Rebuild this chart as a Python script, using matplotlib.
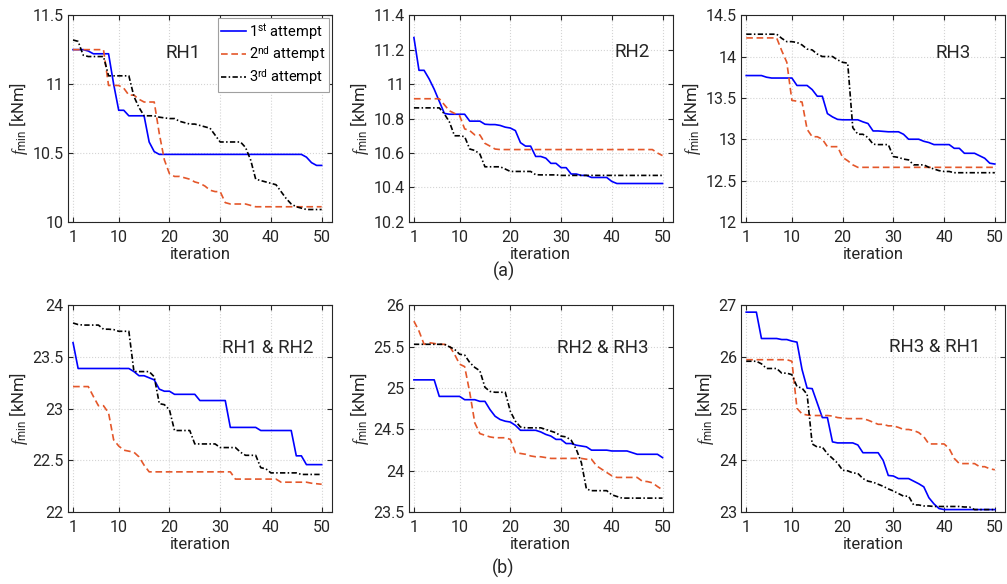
import numpy as np
import matplotlib
matplotlib.use("Agg")
import matplotlib.pyplot as plt
from matplotlib.ticker import FormatStrFormatter

plt.rcParams['font.family'] = ['Roboto', 'DejaVu Sans']
plt.rcParams['mathtext.fontset'] = 'custom'
plt.rcParams['mathtext.rm'] = 'Roboto'
plt.rcParams['mathtext.it'] = 'Liberation Serif:italic'

iteration = np.arange(1, 51)
labels = ['1$^{\\mathrm{st}}$ attempt', '2$^{\\mathrm{nd}}$ attempt', '3$^{\\mathrm{rd}}$ attempt']

# ---- (a) single rotor ----
rh1_1 = [11.25, 11.25, 11.25, 11.24, 11.22, 11.22, 11.22, 11.22, 11.00, 10.81,
         10.81, 10.77, 10.77, 10.77, 10.77, 10.58, 10.51, 10.49, 10.49, 10.49,
         10.49, 10.49, 10.49, 10.49, 10.49, 10.49, 10.49, 10.49, 10.49, 10.49,
         10.49, 10.49, 10.49, 10.49, 10.49, 10.49, 10.49, 10.49, 10.49, 10.49,
         10.49, 10.49, 10.49, 10.49, 10.49, 10.49, 10.47, 10.43, 10.41, 10.41]
rh1_2 = [11.25, 11.25, 11.25, 11.25, 11.25, 11.25, 11.25, 10.99, 10.99, 10.99,
         10.97, 10.92, 10.92, 10.89, 10.87, 10.87, 10.87, 10.64, 10.45, 10.35,
         10.33, 10.33, 10.32, 10.31, 10.29, 10.28, 10.26, 10.23, 10.22, 10.22,
         10.14, 10.13, 10.13, 10.13, 10.13, 10.12, 10.11, 10.11, 10.11, 10.11,
         10.11, 10.11, 10.11, 10.11, 10.11, 10.11, 10.11, 10.11, 10.11, 10.11]
rh1_3 = [11.32, 11.31, 11.21, 11.20, 11.20, 11.20, 11.20, 11.06, 11.06, 11.06,
         11.06, 11.06, 10.91, 10.83, 10.77, 10.77, 10.77, 10.76, 10.755, 10.75,
         10.75, 10.73, 10.72, 10.71, 10.71, 10.70, 10.69, 10.68, 10.63, 10.58,
         10.58, 10.58, 10.58, 10.58, 10.54, 10.45, 10.31, 10.30, 10.29, 10.28,
         10.27, 10.22, 10.17, 10.13, 10.11, 10.10, 10.09, 10.09, 10.09, 10.09]

rh2_1 = [11.27, 11.08, 11.08, 11.03, 10.97, 10.90, 10.83, 10.825, 10.825, 10.825,
         10.825, 10.785, 10.785, 10.785, 10.767, 10.765, 10.765, 10.76, 10.75, 10.745,
         10.73, 10.66, 10.64, 10.64, 10.58, 10.58, 10.57, 10.54, 10.54, 10.515,
         10.515, 10.478, 10.478, 10.47, 10.47, 10.458, 10.458, 10.458, 10.458, 10.435,
         10.423, 10.423, 10.423, 10.423, 10.423, 10.423, 10.423, 10.423, 10.423, 10.423]
rh2_2 = [10.915, 10.915, 10.915, 10.915, 10.915, 10.915, 10.88, 10.845, 10.83, 10.817,
         10.74, 10.73, 10.705, 10.705, 10.656, 10.64, 10.623, 10.62, 10.62, 10.62,
         10.62, 10.62, 10.62, 10.62, 10.62, 10.62, 10.62, 10.62, 10.62, 10.62,
         10.62, 10.62, 10.62, 10.62, 10.62, 10.62, 10.62, 10.62, 10.62, 10.62,
         10.62, 10.62, 10.62, 10.62, 10.62, 10.62, 10.62, 10.62, 10.60, 10.585]
rh2_3 = [10.862, 10.862, 10.862, 10.862, 10.862, 10.862, 10.827, 10.78, 10.70, 10.70,
         10.695, 10.623, 10.615, 10.594, 10.52, 10.52, 10.52, 10.52, 10.507, 10.493,
         10.493, 10.493, 10.493, 10.493, 10.474, 10.473, 10.473, 10.473, 10.473, 10.47,
         10.47, 10.47, 10.47, 10.47, 10.47, 10.47, 10.47, 10.47, 10.47, 10.47,
         10.47, 10.47, 10.47, 10.47, 10.47, 10.47, 10.47, 10.47, 10.47, 10.47]

rh3_1 = [13.77, 13.77, 13.77, 13.77, 13.75, 13.74, 13.74, 13.74, 13.74, 13.74,
         13.65, 13.65, 13.65, 13.60, 13.52, 13.52, 13.31, 13.27, 13.24, 13.235,
         13.235, 13.235, 13.235, 13.21, 13.19, 13.10, 13.10, 13.095, 13.09, 13.09,
         13.09, 13.06, 13.00, 13.00, 13.00, 12.975, 12.96, 12.935, 12.935, 12.935,
         12.935, 12.89, 12.89, 12.83, 12.83, 12.83, 12.80, 12.77, 12.71, 12.70]
rh3_2 = [14.225, 14.225, 14.225, 14.225, 14.225, 14.225, 14.225, 14.07, 13.93, 13.47,
         13.46, 13.45, 13.12, 13.03, 13.03, 13.00, 12.91, 12.91, 12.91, 12.78,
         12.74, 12.69, 12.66, 12.66, 12.66, 12.66, 12.66, 12.66, 12.66, 12.66,
         12.66, 12.66, 12.66, 12.66, 12.66, 12.66, 12.66, 12.66, 12.66, 12.66,
         12.66, 12.66, 12.66, 12.66, 12.66, 12.66, 12.66, 12.66, 12.66, 12.66]
rh3_3 = [14.27, 14.27, 14.27, 14.27, 14.27, 14.27, 14.27, 14.22, 14.18, 14.18,
         14.17, 14.14, 14.09, 14.08, 14.03, 14.00, 14.00, 14.00, 13.96, 13.93,
         13.92, 13.14, 13.06, 13.06, 13.02, 12.94, 12.935, 12.935, 12.935, 12.79,
         12.78, 12.76, 12.75, 12.69, 12.69, 12.69, 12.66, 12.64, 12.62, 12.61,
         12.61, 12.595, 12.595, 12.595, 12.595, 12.595, 12.595, 12.595, 12.595, 12.595]

# ---- (b) rotor pairs ----
rh12_1 = [23.64, 23.39, 23.39, 23.39, 23.39, 23.39, 23.39, 23.39, 23.39, 23.39,
          23.39, 23.39, 23.36, 23.32, 23.32, 23.30, 23.28, 23.19, 23.17, 23.17,
          23.14, 23.14, 23.14, 23.14, 23.14, 23.08, 23.08, 23.08, 23.08, 23.08,
          23.08, 22.82, 22.82, 22.82, 22.82, 22.82, 22.82, 22.79, 22.79, 22.79,
          22.79, 22.79, 22.79, 22.79, 22.545, 22.545, 22.46, 22.46, 22.46, 22.46]
rh12_2 = [23.215, 23.215, 23.215, 23.215, 23.12, 23.03, 23.03, 22.96, 22.70, 22.64,
          22.60, 22.59, 22.58, 22.535, 22.455, 22.39, 22.39, 22.39, 22.39, 22.39,
          22.39, 22.39, 22.39, 22.39, 22.39, 22.39, 22.39, 22.39, 22.39, 22.39,
          22.39, 22.39, 22.32, 22.32, 22.32, 22.32, 22.32, 22.32, 22.32, 22.32,
          22.32, 22.29, 22.29, 22.29, 22.29, 22.29, 22.29, 22.28, 22.275, 22.27]
rh12_3 = [23.83, 23.815, 23.81, 23.81, 23.81, 23.81, 23.77, 23.77, 23.766, 23.75,
          23.75, 23.75, 23.36, 23.36, 23.36, 23.36, 23.31, 23.05, 23.04, 22.99,
          22.79, 22.79, 22.79, 22.79, 22.66, 22.66, 22.66, 22.66, 22.66, 22.625,
          22.625, 22.625, 22.625, 22.58, 22.55, 22.55, 22.55, 22.43, 22.42, 22.38,
          22.38, 22.38, 22.38, 22.38, 22.38, 22.365, 22.365, 22.365, 22.365, 22.365]

rh23_1 = [25.10, 25.10, 25.10, 25.10, 25.10, 24.90, 24.90, 24.90, 24.90, 24.90,
          24.86, 24.86, 24.86, 24.84, 24.84, 24.74, 24.66, 24.62, 24.60, 24.59,
          24.55, 24.49, 24.49, 24.49, 24.49, 24.47, 24.44, 24.42, 24.38, 24.38,
          24.33, 24.33, 24.31, 24.30, 24.29, 24.25, 24.25, 24.25, 24.25, 24.24,
          24.24, 24.24, 24.24, 24.22, 24.20, 24.20, 24.20, 24.20, 24.20, 24.16]
rh23_2 = [25.81, 25.69, 25.53, 25.55, 25.54, 25.53, 25.53, 25.51, 25.41, 25.29,
          25.26, 24.95, 24.58, 24.45, 24.43, 24.41, 24.40, 24.40, 24.40, 24.38,
          24.22, 24.21, 24.20, 24.18, 24.17, 24.17, 24.16, 24.15, 24.15, 24.15,
          24.15, 24.15, 24.15, 24.15, 24.14, 24.14, 24.06, 24.02, 23.98, 23.94,
          23.92, 23.92, 23.92, 23.92, 23.92, 23.875, 23.87, 23.855, 23.81, 23.77]
rh23_3 = [25.53, 25.53, 25.53, 25.53, 25.53, 25.53, 25.53, 25.50, 25.47, 25.41,
          25.40, 25.31, 25.25, 25.21, 25.01, 24.96, 24.95, 24.95, 24.95, 24.72,
          24.60, 24.53, 24.52, 24.52, 24.52, 24.52, 24.50, 24.48, 24.46, 24.42,
          24.41, 24.37, 24.26, 24.10, 23.78, 23.76, 23.76, 23.76, 23.76, 23.71,
          23.69, 23.67, 23.67, 23.67, 23.67, 23.67, 23.67, 23.67, 23.67, 23.67]

rh31_1 = [26.87, 26.87, 26.87, 26.36, 26.36, 26.36, 26.36, 26.34, 26.34, 26.31,
          26.29, 25.76, 25.40, 25.39, 25.11, 24.83, 24.83, 24.36, 24.34, 24.34,
          24.34, 24.34, 24.30, 24.15, 24.15, 24.15, 24.15, 24.00, 23.71, 23.70,
          23.65, 23.65, 23.65, 23.60, 23.55, 23.49, 23.28, 23.16, 23.07, 23.05,
          23.05, 23.05, 23.05, 23.05, 23.05, 23.05, 23.05, 23.05, 23.05, 23.05]
rh31_2 = [25.95, 25.95, 25.95, 25.95, 25.95, 25.95, 25.95, 25.95, 25.95, 25.92,
          25.01, 24.90, 24.88, 24.87, 24.87, 24.87, 24.87, 24.86, 24.83, 24.82,
          24.81, 24.81, 24.81, 24.81, 24.78, 24.74, 24.70, 24.70, 24.67, 24.67,
          24.64, 24.60, 24.60, 24.58, 24.54, 24.46, 24.32, 24.32, 24.32, 24.32,
          24.23, 24.04, 23.94, 23.94, 23.94, 23.94, 23.88, 23.88, 23.84, 23.82]
rh31_3 = [25.92, 25.92, 25.92, 25.87, 25.78, 25.78, 25.78, 25.69, 25.69, 25.66,
          25.43, 25.40, 25.28, 24.32, 24.26, 24.26, 24.13, 24.04, 23.95, 23.81,
          23.80, 23.76, 23.75, 23.65, 23.60, 23.58, 23.54, 23.50, 23.45, 23.41,
          23.36, 23.31, 23.31, 23.14, 23.14, 23.12, 23.12, 23.11, 23.11, 23.11,
          23.11, 23.11, 23.11, 23.10, 23.10, 23.05, 23.05, 23.05, 23.05, 23.05]

panels = [
    ("RH1", (rh1_1, rh1_2, rh1_3), (10, 11.5), [10, 10.5, 11, 11.5], (0.436, 0.816)),
    ("RH2", (rh2_1, rh2_2, rh2_3), (10.2, 11.4), [10.2, 10.4, 10.6, 10.8, 11, 11.2, 11.4], (0.845, 0.82)),
    ("RH3", (rh3_1, rh3_2, rh3_3), (12, 14.5), [12, 12.5, 13, 13.5, 14, 14.5], (0.805, 0.816)),
    ("RH1 & RH2", (rh12_1, rh12_2, rh12_3), (22, 24), [22, 22.5, 23, 23.5, 24], (0.758, 0.796)),
    ("RH2 & RH3", (rh23_1, rh23_2, rh23_3), (23.5, 26), [23.5, 24, 24.5, 25, 25.5, 26], (0.735, 0.796)),
    ("RH3 & RH1", (rh31_1, rh31_2, rh31_3), (23, 27), [23, 24, 25, 26, 27], (0.733, 0.80)),
]

colors = ['#0000FF', '#E4572A', '#000000']
dash_patterns = [None, (4, 2.2), (3.2, 1.4, 0.9, 1.4)]
dark = '#262626'

fig = plt.figure(figsize=(10.07, 5.84), dpi=100)
lefts = [0.0675, 0.406, 0.736]
bottoms = [0.620, 0.123]

for k, (name, series, ylim, yticks, tpos) in enumerate(panels):
    r, c = divmod(k, 3)
    ax = fig.add_axes([lefts[c], bottoms[r], 0.262, 0.354])
    for s, col, dsh, lab in zip(series, colors, dash_patterns, labels):
        line, = ax.plot(iteration, s, color=col, linewidth=1.2, label=lab)
        if dsh is not None:
            line.set_dashes(dsh)
    ax.set_xlim(0, 52)
    ax.set_ylim(*ylim)
    ax.set_xticks([1, 10, 20, 30, 40, 50])
    ax.set_yticks(yticks)
    ax.yaxis.set_major_formatter(FormatStrFormatter('%g'))
    ax.grid(True, color='#d4d4d4', linestyle=':', linewidth=0.8)
    ax.tick_params(direction='in', top=True, right=True, length=3.5,
                   labelsize=11.5, colors=dark, width=0.8, pad=3)
    ax.tick_params(axis='x', pad=5.5)
    for sp in ax.spines.values():
        sp.set_color(dark)
        sp.set_linewidth(0.8)
    ax.set_xlabel('iteration', fontsize=12, color=dark, labelpad=1.5)
    ax.set_ylabel('$f_{\\mathrm{min}}$ [kNm]', fontsize=12, color=dark, labelpad=2)
    ax.text(tpos[0], tpos[1], name, transform=ax.transAxes, ha='center', va='center',
            fontsize=13.5, color=dark)
    if k == 0:
        leg = ax.legend(loc='upper right', fontsize=10.5, handlelength=1.7, handletextpad=0.2,
                        borderpad=0.25, labelspacing=0.2, fancybox=False, framealpha=1,
                        borderaxespad=0.2)
        leg.get_frame().set_edgecolor('#a0a0a0')
        leg.get_frame().set_linewidth(0.8)

fig.text(0.5, 0.535, '(a)', ha='center', va='center', fontsize=13, color=dark)
fig.text(0.5, 0.027, '(b)', ha='center', va='center', fontsize=13, color=dark)

fig.savefig('out.png', dpi=100)
